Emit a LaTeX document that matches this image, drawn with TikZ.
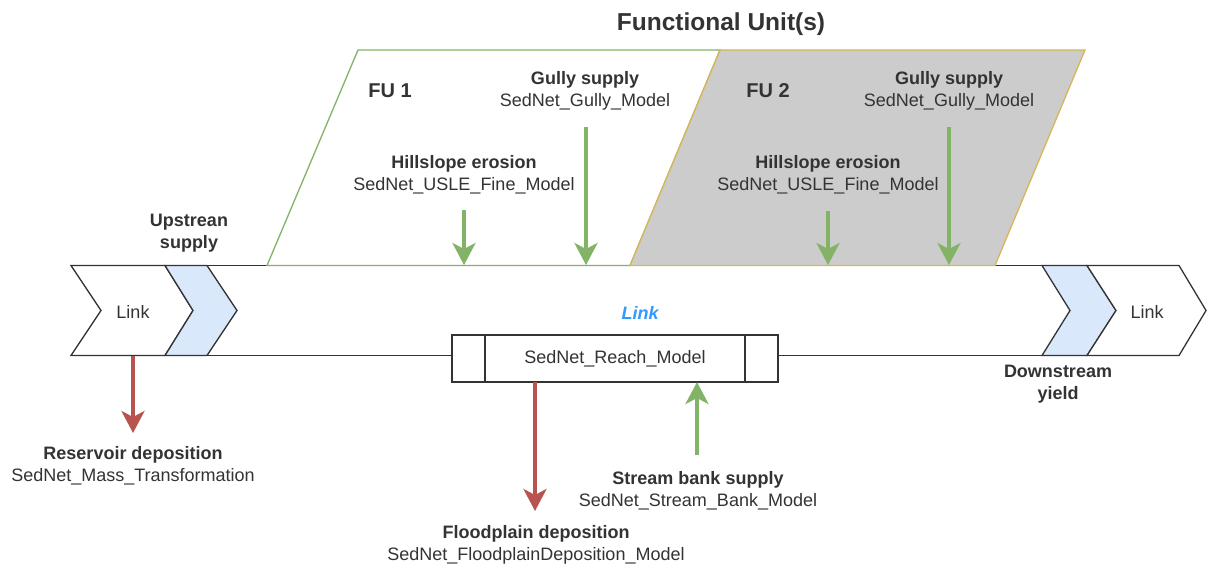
\documentclass[tikz,border=0pt]{standalone}
\usepackage{fontspec}
\setmainfont{Liberation Sans}
\usetikzlibrary{arrows.meta}
\definecolor{grn}{HTML}{82B366}
\definecolor{rd}{HTML}{B85450}
\definecolor{ylw}{HTML}{D6B656}
\definecolor{blu}{HTML}{DAE8FC}
\definecolor{lnk}{HTML}{3399FF}
\definecolor{txt}{HTML}{333333}
\definecolor{edg}{HTML}{333333}
\definecolor{fugray}{HTML}{CCCCCC}
\begin{document}
\begin{tikzpicture}[x=1pt,y=-1pt,
  lbl/.style={align=center, text=txt, font=\fontsize{18}{22}\selectfont, inner sep=0pt},
  hdr/.style={text=txt, font=\fontsize{20}{24}\selectfont\bfseries, inner sep=0pt},
  band/.style={draw=edg, line width=1.3pt},
  chev/.style={draw=edg, line width=1.3pt, line join=miter},
  flowg/.style={draw=grn, line width=3.5pt, -{Stealth[length=22pt,width=23pt,inset=6pt,fill=grn]}},
  flowr/.style={draw=rd, line width=3.5pt, -{Stealth[length=22pt,width=23pt,inset=6pt,fill=rd]}}]
\useasboundingbox (0,0) rectangle (1207,566);
\fill[white] (0,0) rectangle (1207,566);

% link band lines
\draw[band] (207,265.5) -- (1042,265.5);
\draw[band] (207,355.5) -- (452,355.5);
\draw[band] (778,355.5) -- (1042,355.5);

% functional units
\draw[draw=grn, fill=white, line width=1.3pt] (358,50) -- (720,50) -- (630,265.5) -- (267,265.5) -- cycle;
\draw[draw=ylw, fill=fugray, line width=1.3pt] (720,50) -- (1085,50) -- (995,265.5) -- (630,265.5) -- cycle;

% chevrons left
\draw[chev, fill=white] (71,265.5) -- (165,265.5) -- (193,310.5) -- (165,355.5) -- (71,355.5) -- (101,310.5) -- cycle;
\draw[chev, fill=blu] (165,265.5) -- (207,265.5) -- (237,310.5) -- (207,355.5) -- (165,355.5) -- (193,310.5) -- cycle;
% chevrons right
\draw[chev, fill=blu] (1042,265.5) -- (1087,265.5) -- (1116,310.5) -- (1087,355.5) -- (1042,355.5) -- (1070,310.5) -- cycle;
\draw[chev, fill=white] (1087,265.5) -- (1179,265.5) -- (1206,310.5) -- (1179,355.5) -- (1087,355.5) -- (1116,310.5) -- cycle;

% reach model box
\node[draw=edg, line width=1.3pt, fill=white, minimum width=326pt, minimum height=47pt, inner sep=0pt,
      text=txt, font=\fontsize{18}{22}\selectfont] (reach) at (615,358.5) {SedNet\_Reach\_Model};
\draw[band] (485,335) -- (485,382);
\draw[band] (745,335) -- (745,382);

% texts
\node[text=txt, font=\fontsize{24.5}{28}\selectfont\bfseries, inner sep=0pt] (title) at (721,24) {Functional Unit(s)};
\node[hdr] (fu1) at (390,91) {FU 1};
\node[hdr] (fu2) at (768,91) {FU 2};
\node[lbl] (gully1) at (585,91) {\textbf{Gully supply}\\SedNet\_Gully\_Model};
\node[lbl] (hill1) at (464,175) {\textbf{Hillslope erosion}\\SedNet\_USLE\_Fine\_Model};
\node[lbl] (gully2) at (949,91) {\textbf{Gully supply}\\SedNet\_Gully\_Model};
\node[lbl] (hill2) at (828,175) {\textbf{Hillslope erosion}\\SedNet\_USLE\_Fine\_Model};
\node[lbl] (up) at (189,233) {\textbf{Upstrean}\\\textbf{supply}};
\node[lbl] (down) at (1058,384) {\textbf{Downstream}\\\textbf{yield}};
\node[lbl] (res) at (133,466) {\textbf{Reservoir deposition}\\SedNet\_Mass\_Transformation};
\node[lbl] (flood) at (536,545) {\textbf{Floodplain deposition}\\SedNet\_FloodplainDeposition\_Model};
\node[lbl] (bank) at (698,491) {\textbf{Stream bank supply}\\SedNet\_Stream\_Bank\_Model};
\node[lbl] (linkL) at (133,312) {Link};
\node[lbl] (linkR) at (1147,312) {Link};
\node[text=lnk, font=\fontsize{18}{22}\selectfont\bfseries\itshape, inner sep=0pt] (linkC) at (640,313) {Link};

% arrow end points
\coordinate (h1s) at (464,210);  \coordinate (h1e) at (464,265);
\coordinate (g1s) at (586,127);  \coordinate (g1e) at (586,265);
\coordinate (h2s) at (828,211);  \coordinate (h2e) at (828,265);
\coordinate (g2s) at (949,127);  \coordinate (g2e) at (949,265);
\coordinate (rs) at (133,356);   \coordinate (re) at (133,433);
\coordinate (fs) at (535,382);   \coordinate (fe) at (535,511);
\coordinate (bs) at (697,455);   \coordinate (be) at (697,382);

\draw[flowg] (h1s) -- (h1e);
\draw[flowg] (g1s) -- (g1e);
\draw[flowg] (h2s) -- (h2e);
\draw[flowg] (g2s) -- (g2e);
\draw[flowr] (rs) -- (re);
\draw[flowr] (fs) -- (fe);
\draw[flowg] (bs) -- (be);
\end{tikzpicture}
\end{document}
